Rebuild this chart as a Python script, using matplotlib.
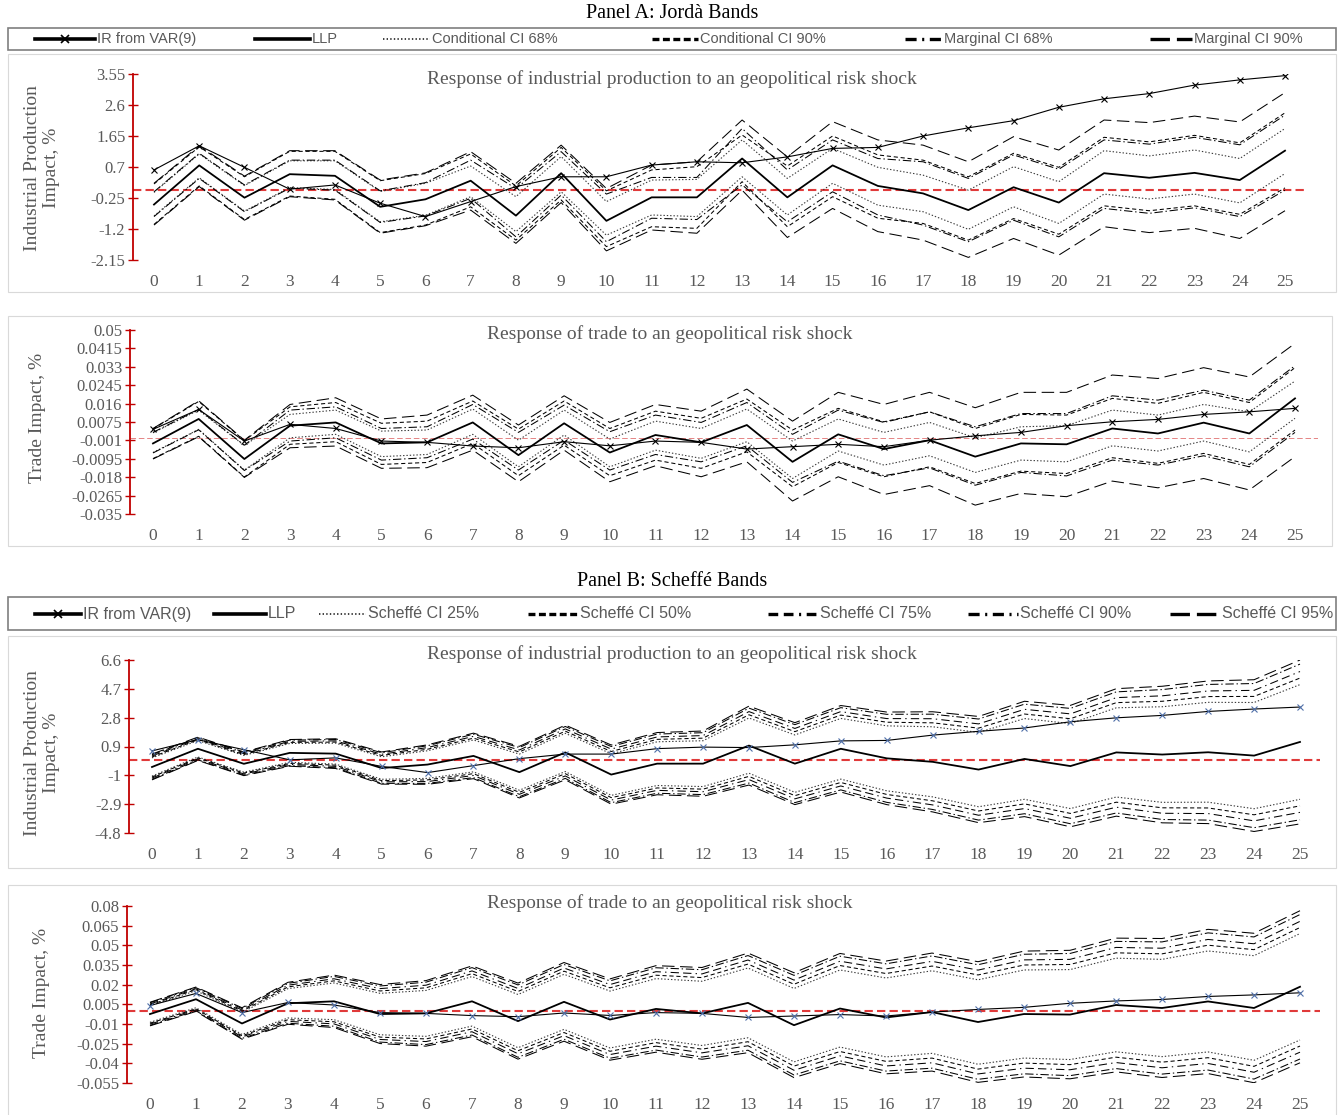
import matplotlib.pyplot as plt
from matplotlib.lines import Line2D
from matplotlib.patches import Rectangle

plt.rcParams['lines.scale_dashes'] = False
plt.rcParams['font.family'] = ['Liberation Serif', 'DejaVu Serif']
SANS = ['Liberation Sans', 'DejaVu Sans']
GREY = '#595959'
RED = '#C00000'
ZERO = '#E03A3A'

horizons = list(range(26))

# point estimates (same in both panels)
ip_var = [0.61, 1.35, 0.69, 0.02, 0.15, -0.41, -0.82, -0.36, 0.10, 0.40, 0.40, 0.76, 0.86,
          0.83, 1.01, 1.27, 1.30, 1.65, 1.90, 2.12, 2.53, 2.79, 2.95, 3.21, 3.37, 3.50]
ip_llp = [-0.45, 0.75, -0.24, 0.48, 0.43, -0.52, -0.29, 0.28, -0.79, 0.51, -0.95, -0.23, -0.23,
          0.96, -0.23, 0.75, 0.12, -0.11, -0.62, 0.08, -0.39, 0.51, 0.37, 0.52, 0.30, 1.20]
tr_var = [0.0041, 0.0133, -0.0013, 0.0064, 0.0045, -0.0013, -0.0019, -0.0036, -0.0044, -0.0016,
          -0.0035, -0.0013, -0.0019, -0.0050, -0.0039, -0.0028, -0.0039, -0.0009, 0.0011, 0.0027,
          0.0058, 0.0076, 0.0087, 0.0110, 0.0122, 0.0138]
tr_llp = [-0.0024, 0.0089, -0.0096, 0.0058, 0.0073, -0.0024, -0.0019, 0.0073, -0.0078, 0.0069,
          -0.0066, 0.0015, -0.0019, 0.0061, -0.0109, 0.0018, -0.0050, -0.0009, -0.0085, -0.0024,
          -0.0028, 0.0045, 0.0022, 0.0072, 0.0022, 0.0184]

# Panel A: Jorda bands, industrial production
ip_m90_up = [0.20, 1.35, 0.42, 1.20, 1.20, 0.30, 0.52, 1.17, 0.20, 1.37, 0.04, 0.76, 0.86,
             2.14, 1.01, 2.09, 1.53, 1.37, 0.86, 1.63, 1.22, 2.14, 2.06, 2.26, 2.08, 2.98]
ip_m90_lo = [-1.08, 0.10, -0.93, -0.21, -0.31, -1.33, -1.10, -0.62, -1.64, -0.39, -1.87, -1.23, -1.33,
             -0.01, -1.46, -0.57, -1.28, -1.54, -2.07, -1.49, -2.00, -1.13, -1.31, -1.18, -1.49, -0.64]
ip_c90_up = [0.18, 1.32, 0.40, 1.18, 1.18, 0.28, 0.50, 1.10, 0.12, 1.30, -0.03, 0.61, 0.71,
             1.68, 0.73, 1.65, 1.07, 0.91, 0.40, 1.12, 0.69, 1.61, 1.47, 1.67, 1.44, 2.36]
ip_c90_lo = [-1.06, 0.12, -0.91, -0.19, -0.29, -1.31, -1.08, -0.52, -1.54, -0.31, -1.74, -1.13, -1.18,
             0.25, -1.13, -0.21, -0.87, -1.03, -1.54, -0.88, -1.36, -0.49, -0.64, -0.49, -0.75, 0.06]
ip_m68_up = [-0.06, 1.12, 0.15, 0.91, 0.91, -0.03, 0.22, 0.91, 0.04, 1.17, -0.13, 0.38, 0.38,
             1.88, 0.61, 1.53, 0.96, 0.86, 0.35, 1.07, 0.63, 1.53, 1.40, 1.61, 1.38, 2.29]
ip_m68_lo = [-0.82, 0.35, -0.67, 0.05, -0.01, -1.00, -0.80, -0.26, -1.44, -0.16, -1.59, -0.87, -0.91,
             0.15, -0.98, -0.06, -0.77, -1.08, -1.59, -0.93, -1.44, -0.57, -0.72, -0.55, -0.82, -0.01]
ip_c68_up = [-0.08, 1.10, 0.13, 0.89, 0.89, -0.05, 0.20, 0.73, -0.21, 1.02, -0.36, 0.30, 0.32,
             1.53, 0.35, 1.27, 0.69, 0.45, -0.01, 0.71, 0.25, 1.20, 1.04, 1.22, 0.96, 1.88]
ip_c68_lo = [-0.80, 0.37, -0.65, 0.07, 0.01, -0.98, -0.78, -0.21, -1.28, -0.06, -1.39, -0.77, -0.82,
             0.40, -0.77, 0.20, -0.47, -0.67, -1.21, -0.52, -1.03, -0.13, -0.28, -0.13, -0.40, 0.50]

# Panel A: Jorda bands, trade
tr_m90_up = [0.0045, 0.0173, -0.0009, 0.0156, 0.0187, 0.0089, 0.0107, 0.0199, 0.0061, 0.0196, 0.0073,
             0.0156, 0.0125, 0.0227, 0.0079, 0.0212, 0.0156, 0.0212, 0.0141, 0.0212, 0.0212, 0.0292,
             0.0276, 0.0326, 0.0283, 0.0438]
tr_c90_up = [0.0043, 0.0170, -0.0011, 0.0145, 0.0165, 0.0069, 0.0079, 0.0172, 0.0042, 0.0172, 0.0045,
             0.0125, 0.0092, 0.0181, 0.0038, 0.0138, 0.0076, 0.0122, 0.0045, 0.0110, 0.0107, 0.0184,
             0.0161, 0.0212, 0.0165, 0.0326]
tr_m68_up = [0.0027, 0.0133, -0.0032, 0.0130, 0.0145, 0.0045, 0.0053, 0.0156, 0.0027, 0.0153, 0.0030,
             0.0107, 0.0073, 0.0165, 0.0018, 0.0130, 0.0073, 0.0122, 0.0053, 0.0114, 0.0114, 0.0196,
             0.0176, 0.0222, 0.0176, 0.0335]
tr_c68_up = [0.0025, 0.0130, -0.0034, 0.0110, 0.0130, 0.0033, 0.0038, 0.0135, -0.0009, 0.0130, -0.0004,
             0.0079, 0.0045, 0.0135, -0.0013, 0.0089, 0.0027, 0.0073, 0.0002, 0.0053, 0.0058, 0.0130,
             0.0107, 0.0156, 0.0122, 0.0264]
tr_c68_lo = [-0.0066, 0.0041, -0.0147, 0.0002, 0.0018, -0.0085, -0.0075, 0.0018, -0.0132, 0.0015, -0.0132,
             -0.0055, -0.0093, -0.0016, -0.0186, -0.0059, -0.0124, -0.0081, -0.0158, -0.0101, -0.0109,
             -0.0035, -0.0059, -0.0013, -0.0063, 0.0092]
tr_m68_lo = [-0.0068, 0.0039, -0.0149, -0.0013, 0.0002, -0.0101, -0.0090, -0.0004, -0.0147, -0.0009, -0.0147,
             -0.0075, -0.0109, -0.0035, -0.0204, -0.0106, -0.0173, -0.0137, -0.0217, -0.0158, -0.0174,
             -0.0101, -0.0124, -0.0081, -0.0132, 0.0027]
tr_c90_lo = [-0.0094, 0.0009, -0.0179, -0.0028, -0.0016, -0.0121, -0.0112, -0.0024, -0.0173, -0.0032, -0.0173,
             -0.0101, -0.0139, -0.0063, -0.0224, -0.0112, -0.0178, -0.0132, -0.0209, -0.0152, -0.0163,
             -0.0090, -0.0116, -0.0070, -0.0121, 0.0038]
tr_m90_lo = [-0.0096, 0.0007, -0.0181, -0.0044, -0.0036, -0.0139, -0.0136, -0.0055, -0.0201, -0.0055, -0.0201,
             -0.0127, -0.0178, -0.0109, -0.0290, -0.0178, -0.0260, -0.0219, -0.0309, -0.0255, -0.0270,
             -0.0198, -0.0229, -0.0186, -0.0239, -0.0085]

# Panel B: Scheffe band half-widths around LLP
ip_s25 = [0.60, 0.54, 0.55, 0.62, 0.69, 0.74, 0.91, 1.05, 1.19, 1.26, 1.37, 1.44, 1.51,
          1.82, 1.89, 2.00, 2.14, 2.31, 2.45, 2.66, 2.80, 2.94, 3.15, 3.29, 3.50, 3.78]
ip_s50 = [0.66, 0.60, 0.61, 0.69, 0.76, 0.83, 1.01, 1.17, 1.33, 1.40, 1.52, 1.60, 1.68,
          2.03, 2.11, 2.22, 2.38, 2.57, 2.73, 2.96, 3.12, 3.28, 3.51, 3.67, 3.90, 4.21]
ip_s75 = [0.73, 0.66, 0.67, 0.76, 0.84, 0.91, 1.12, 1.29, 1.46, 1.55, 1.68, 1.76, 1.85,
          2.24, 2.32, 2.45, 2.62, 2.84, 3.01, 3.27, 3.44, 3.61, 3.87, 4.04, 4.30, 4.64]
ip_s90 = [0.81, 0.73, 0.74, 0.84, 0.93, 1.01, 1.24, 1.43, 1.62, 1.71, 1.85, 1.95, 2.04,
          2.47, 2.57, 2.71, 2.90, 3.14, 3.33, 3.61, 3.80, 3.99, 4.28, 4.47, 4.75, 5.13]
ip_s95 = [0.85, 0.77, 0.78, 0.88, 0.98, 1.06, 1.30, 1.50, 1.70, 1.80, 1.95, 2.05, 2.15,
          2.60, 2.70, 2.85, 3.05, 3.30, 3.50, 3.80, 4.00, 4.20, 4.50, 4.70, 5.00, 5.40]

tr_s25 = [0.0063, 0.0065, 0.0084, 0.0112, 0.0140, 0.0158, 0.0175, 0.0189, 0.0203, 0.0210, 0.0217, 0.0231,
          0.0245, 0.0266, 0.0280, 0.0294, 0.0301, 0.0315, 0.0322, 0.0336, 0.0343, 0.0357, 0.0371, 0.0385,
          0.0399, 0.0406]
tr_s50 = [0.0070, 0.0073, 0.0094, 0.0125, 0.0156, 0.0176, 0.0195, 0.0211, 0.0226, 0.0234, 0.0242, 0.0257,
          0.0273, 0.0296, 0.0312, 0.0328, 0.0335, 0.0351, 0.0359, 0.0374, 0.0382, 0.0398, 0.0413, 0.0429,
          0.0445, 0.0452]
tr_s75 = [0.0077, 0.0080, 0.0103, 0.0138, 0.0172, 0.0194, 0.0215, 0.0232, 0.0249, 0.0258, 0.0267, 0.0284,
          0.0301, 0.0327, 0.0344, 0.0361, 0.0370, 0.0387, 0.0396, 0.0413, 0.0421, 0.0439, 0.0456, 0.0473,
          0.0490, 0.0499]
tr_s90 = [0.0086, 0.0088, 0.0114, 0.0152, 0.0190, 0.0214, 0.0238, 0.0257, 0.0276, 0.0285, 0.0295, 0.0314,
          0.0333, 0.0361, 0.0380, 0.0399, 0.0409, 0.0428, 0.0437, 0.0456, 0.0466, 0.0485, 0.0504, 0.0523,
          0.0542, 0.0551]
tr_s95 = [0.0090, 0.0093, 0.0120, 0.0160, 0.0200, 0.0225, 0.0250, 0.0270, 0.0290, 0.0300, 0.0310, 0.0330,
          0.0350, 0.0380, 0.0400, 0.0420, 0.0430, 0.0450, 0.0460, 0.0480, 0.0490, 0.0510, 0.0530, 0.0550,
          0.0570, 0.0580]

ip_ticks_a = ['3.55', '2.6', '1.65', '0.7', '-0.25', '-1.2', '-2.15']
tr_ticks_a = ['0.05', '0.0415', '0.033', '0.0245', '0.016', '0.0075', '-0.001', '-0.0095', '-0.018',
              '-0.0265', '-0.035']
ip_ticks_b = ['6.6', '4.7', '2.8', '0.9', '-1', '-2.9', '-4.8']
tr_ticks_b = ['0.08', '0.065', '0.05', '0.035', '0.02', '0.005', '-0.01', '-0.025', '-0.04', '-0.055']

# line styles (plot) and the wider patterns used for the legend keys
S_VAR = dict(color='black', lw=0.8, marker='x', ms=4, mew=0.8)
S_LLP = dict(color='black', lw=1.3)
S_DOT = dict(color='#3a3a3a', lw=0.8, linestyle=(0, (1, 1.4)))
S_DASH = dict(color='black', lw=0.75, linestyle=(0, (3, 2)))
S_DDOT = dict(color='black', lw=0.75, linestyle=(0, (6, 2, 1, 2)))
S_LONG = dict(color='black', lw=0.75, linestyle=(0, (9, 4)))
S_DDD = dict(color='black', lw=0.75, linestyle=(0, (6, 3, 6, 3, 1, 3)))

K_VAR = dict(color='black', lw=2.6)
K_LLP = dict(color='black', lw=2.6)
K_DOT = dict(color='#404040', lw=1.4, linestyle=(0, (1, 1.6)))
K_DASH = dict(color='black', lw=2.4, linestyle=(0, (5, 2.5)))
K_DDOT = dict(color='black', lw=2.4, linestyle=(0, (8, 4, 1.5, 4)))
K_LONG = dict(color='black', lw=2.4, linestyle=(0, (14, 5)))
K_DDD = dict(color='black', lw=2.4, linestyle=(0, (7, 4, 7, 4, 1.5, 4)))

W, H = 1343, 1115
fig = plt.figure(figsize=(W / 100, H / 100), dpi=100)


def box(x0, y0, x1, y1, color, lw):
    fig.patches.append(Rectangle((x0 / W, 1 - y1 / H), (x1 - x0) / W, (y1 - y0) / H,
                                 transform=fig.transFigure, fill=False, edgecolor=color, lw=lw))


def make_axes(left, right, top, bottom, x0, x25, labels, zero_lw):
    ax = fig.add_axes([left / W, 1 - bottom / H, (right - left) / W, (bottom - top) / H])
    unit = (x25 - x0) / 25
    ax.set_xlim(-(x0 - left) / unit, 25 + (right - x25) / unit)
    vals = [float(t) for t in labels]
    ax.set_ylim(min(vals), max(vals))
    ax.set_yticks(vals)
    ax.set_yticklabels(labels)
    ax.set_xticks(horizons)
    ax.set_facecolor('none')
    for s in ['top', 'right', 'bottom']:
        ax.spines[s].set_visible(False)
    ax.spines['left'].set_color(RED)
    ax.spines['left'].set_linewidth(1.3)
    ax.tick_params(axis='y', direction='inout', length=7, width=1, color=RED,
                   labelcolor=GREY, labelsize=12, pad=2)
    ax.tick_params(axis='x', length=0, labelcolor=GREY, labelsize=12.5, pad=10)
    if zero_lw > 1:
        ax.axhline(0, color=ZERO, lw=zero_lw, linestyle=(0, (6, 3)), zorder=1)
    else:
        ax.axhline(0, color='#E07070', lw=zero_lw, linestyle=(0, (4, 2)), zorder=1)
    return ax


def draw(ax, var, llp, bands, var_color):
    for data, style in bands:
        ax.plot(horizons, data, zorder=2, **style)
    ax.plot(horizons, llp, zorder=3, **S_LLP)
    st = dict(S_VAR)
    st['mec'] = var_color
    ax.plot(horizons, var, zorder=4, **st)


def legend_row(y, items, size):
    for x0, x1, key, label in items:
        fig.add_artist(Line2D([x0 / W, x1 / W], [1 - y / H, 1 - y / H], transform=fig.transFigure, **key))
        if label.startswith('IR'):
            fig.add_artist(Line2D([(x0 + x1) / 2 / W], [1 - y / H], transform=fig.transFigure,
                                  marker='x', ms=6, mew=1.2, color='black', lw=0))
        fig.text((x1 + 2) / W, 1 - y / H, label, fontsize=size, family=SANS,
                 color=GREY, ha='left', va='center')


# ---------------- Panel A ----------------
fig.text(672 / W, 1 - 13 / H, 'Panel A: Jordà Bands', ha='center', va='center', fontsize=14.5)
box(8, 28, 1336, 50, '#7F7F7F', 1.2)
legend_row(39, [
    (35, 95, K_VAR, 'IR from VAR(9)'),
    (255, 310, K_LLP, 'LLP'),
    (383, 430, K_DOT, 'Conditional CI 68%'),
    (652, 698, K_DASH, 'Conditional CI 90%'),
    (905, 942, K_DDOT, 'Marginal CI 68%'),
    (1150, 1192, K_LONG, 'Marginal CI 90%'),
], 10.5)

box(8, 54, 1336, 292, '#D9D9D9', 0.8)
ax1 = make_axes(133, 1308, 74, 260, 154, 1285, ip_ticks_a, 1.5)
draw(ax1, ip_var, ip_llp, [
    (ip_c68_up, S_DOT), (ip_c68_lo, S_DOT), (ip_c90_up, S_DASH), (ip_c90_lo, S_DASH),
    (ip_m68_up, S_DDOT), (ip_m68_lo, S_DDOT), (ip_m90_up, S_LONG), (ip_m90_lo, S_LONG),
], 'black')
fig.text(672 / W, 1 - 79 / H, 'Response of industrial production to an geopolitical risk shock',
         ha='center', va='center', fontsize=14, color=GREY)
fig.text(42 / W, 1 - 168 / H, 'Industrial Production\nImpact, %', rotation=90, ha='center',
         va='center', fontsize=14, color=GREY, multialignment='center')

box(8, 316, 1332, 546, '#D9D9D9', 0.8)
ax2 = make_axes(130, 1318, 330, 514, 153, 1295, tr_ticks_a, 0.6)
draw(ax2, tr_var, tr_llp, [
    (tr_c68_up, S_DOT), (tr_c68_lo, S_DOT), (tr_c90_up, S_DASH), (tr_c90_lo, S_DASH),
    (tr_m68_up, S_DDOT), (tr_m68_lo, S_DDOT), (tr_m90_up, S_LONG), (tr_m90_lo, S_LONG),
], 'black')
fig.text(670 / W, 1 - 334 / H, 'Response of trade to an geopolitical risk shock',
         ha='center', va='center', fontsize=14, color=GREY)
fig.text(38 / W, 1 - 418 / H, 'Trade Impact, %', rotation=90, ha='center',
         va='center', fontsize=14, color=GREY)

# ---------------- Panel B ----------------
fig.text(672 / W, 1 - 582 / H, 'Panel B: Scheffé Bands', ha='center', va='center', fontsize=14.5)
box(8, 597, 1336, 630, '#7F7F7F', 1.2)
legend_row(614, [
    (35, 81, K_VAR, 'IR from VAR(9)'),
    (214, 266, K_LLP, 'LLP'),
    (319, 366, K_DOT, 'Scheffé CI 25%'),
    (528, 578, K_DASH, 'Scheffé CI 50%'),
    (768, 818, K_DDD, 'Scheffé CI 75%'),
    (968, 1018, K_DDOT, 'Scheffé CI 90%'),
    (1170, 1220, K_LONG, 'Scheffé CI 95%'),
], 11.5)


def around(center, half, sign):
    return [c + sign * h for c, h in zip(center, half)]


sch_styles = [(ip_s25, tr_s25, S_DOT), (ip_s50, tr_s50, S_DASH), (ip_s75, tr_s75, S_DDD),
              (ip_s90, tr_s90, S_DDOT), (ip_s95, tr_s95, S_LONG)]

box(8, 636, 1336, 868, '#D9D9D9', 0.8)
ax3 = make_axes(129, 1320, 660, 833, 152, 1300, ip_ticks_b, 1.5)
bands3 = []
for ip_hw, _, st in sch_styles:
    bands3 += [(around(ip_llp, ip_hw, 1), st), (around(ip_llp, ip_hw, -1), st)]
draw(ax3, ip_var, ip_llp, bands3, '#4F6FA8')
fig.text(672 / W, 1 - 654 / H, 'Response of industrial production to an geopolitical risk shock',
         ha='center', va='center', fontsize=14, color=GREY)
fig.text(42 / W, 1 - 753 / H, 'Industrial Production\nImpact, %', rotation=90, ha='center',
         va='center', fontsize=14, color=GREY, multialignment='center')

box(8, 885, 1336, 1120, '#D9D9D9', 0.8)
ax4 = make_axes(127, 1320, 906, 1083, 150, 1300, tr_ticks_b, 1.5)
bands4 = []
for _, tr_hw, st in sch_styles:
    bands4 += [(around(tr_llp, tr_hw, 1), st), (around(tr_llp, tr_hw, -1), st)]
draw(ax4, tr_var, tr_llp, bands4, '#4F6FA8')
fig.text(670 / W, 1 - 903 / H, 'Response of trade to an geopolitical risk shock',
         ha='center', va='center', fontsize=14, color=GREY)
fig.text(42 / W, 1 - 993 / H, 'Trade Impact, %', rotation=90, ha='center',
         va='center', fontsize=14, color=GREY)

fig.savefig('out.png', dpi=100, facecolor='white')
